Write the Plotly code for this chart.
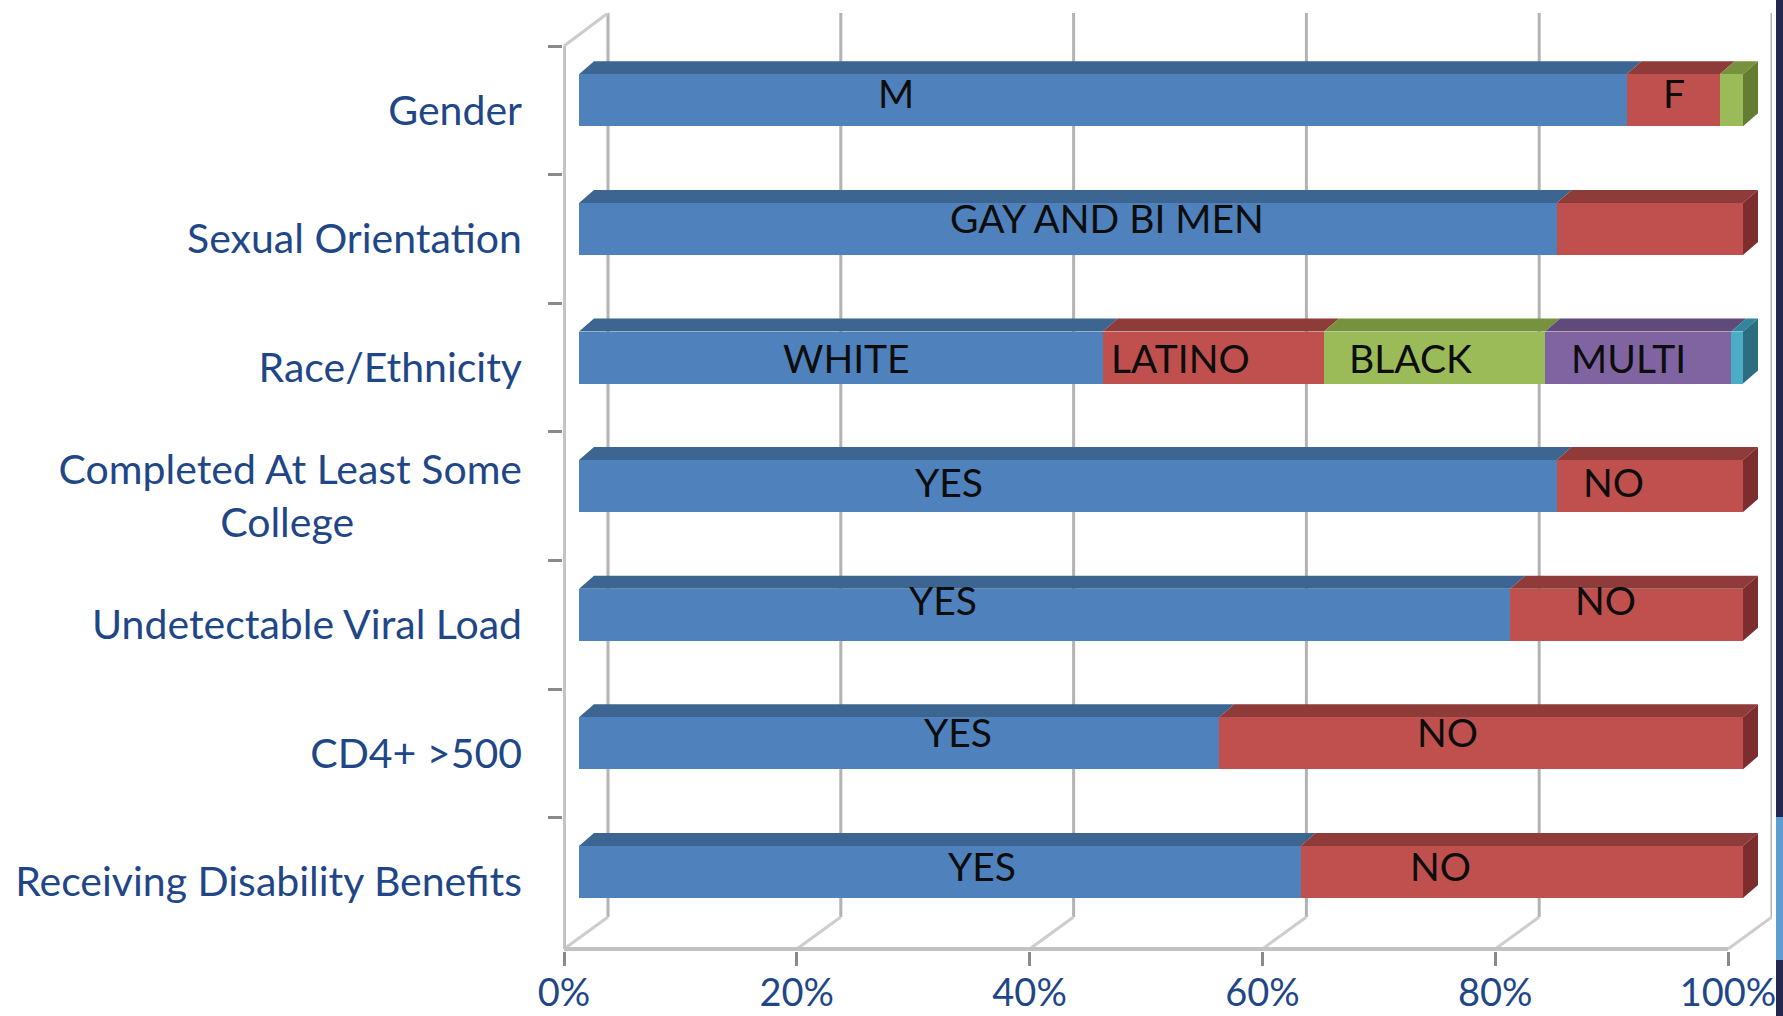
import plotly.graph_objects as go

# ---- data ---------------------------------------------------------------
NB = "\u00a0"
categories = [
    "Gender",
    "Sexual Orientation",
    "Race/Ethnicity",
    "Completed At Least Some<br>College" + NB * 16,
    "Undetectable Viral Load",
    "CD4+ >500",
    "Receiving Disability Benefits",
]

# stacked shares (percent) per colour position, one entry per category
blue_vals = [90, 84, 45, 84, 80, 55, 62]
red_vals = [8, 16, 19, 16, 20, 45, 38]
green_vals = [2, 0, 19, 0, 0, 0, 0]
purple_vals = [0, 0, 16, 0, 0, 0, 0]
cyan_vals = [0, 0, 1, 0, 0, 0, 0]

# in-bar text per category (segment order)
segment_text = [
    ["M", "F", ""],
    ["GAY AND BI MEN", ""],
    ["WHITE", "LATINO", "BLACK", "MULTI", ""],
    ["YES", "NO"],
    ["YES", "NO"],
    ["YES", "NO"],
    ["YES", "NO"],
]

x_ticks = [0, 20, 40, 60, 80, 100]
x_tick_text = ["0%", "20%", "40%", "60%", "80%", "100%"]

# ---- layout / style ------------------------------------------------------
# horizontal placement of each in-bar text (percent) and its lift in px
text_pos = [
    [27.2, 94.1],
    [45.4],
    [23.0, 51.7, 71.4, 90.2],
    [31.8, 88.9],
    [31.3, 88.2],
    [32.6, 74.6],
    [34.6, 74.0],
]
text_lift = [17, 21, 10, 14, 25, 21, 16]

front_cols = ["#4F81BD", "#C0504D", "#9BBB59", "#8064A2", "#4BACC6"]
top_cols = ["#3D6591", "#8E3B3A", "#76923C", "#604A7B", "#31859C"]
side_cols = ["#34577F", "#7B2E2D", "#657D33", "#4F3D66", "#2C6E80"]
label_blue = "#1F4788"
FONT = "Lato"

W, H = 1783, 1016
PX_L, PX_R, PX_T, PX_B = 563, 1772, 13, 951      # plot area (px)
BAR0_PX, PX_PER_PCT = 579, 11.64                 # 0 % on the bar face
BAND_TOP_PX, BAND_PX = 46, 128.6                 # category bands (front)
BAR_H_PX, BAR_LIFT_PX = 52, 10
DEPTH_DX_PX, DEPTH_DY_PX = 15, 13                # bar depth
FRONT_SHIFT_PX, BACK_SHIFT_PX = -15, 29          # wall planes vs bar face
FLOOR_FRONT_PX, FLOOR_BACK_PX, WALL_TOP_BACK_PX = 949, 917, 13

x_range = [(PX_L - BAR0_PX) / PX_PER_PCT, (PX_R - BAR0_PX) / PX_PER_PCT]


def ycat(px):
    return -0.5 + (px - BAND_TOP_PX) / BAND_PX


y_range = [ycat(PX_B), ycat(PX_T)]
bar_w = BAR_H_PX / BAND_PX
bar_off = -(BAR_LIFT_PX + BAR_H_PX / 2) / BAND_PX
ddx = DEPTH_DX_PX / PX_PER_PCT
ddy = DEPTH_DY_PX / BAND_PX
front_dx = FRONT_SHIFT_PX / PX_PER_PCT
back_dx = BACK_SHIFT_PX / PX_PER_PCT
floor_front = ycat(FLOOR_FRONT_PX)
floor_back = ycat(FLOOR_BACK_PX)
wall_top_back = ycat(WALL_TOP_BACK_PX)

series = [blue_vals, red_vals, green_vals, purple_vals, cyan_vals]

fig = go.Figure()
for vals, col in zip(series, front_cols):
    fig.add_trace(go.Bar(
        y=categories, x=vals, orientation="h",
        width=bar_w, offset=bar_off,
        marker=dict(color=col, line=dict(width=0)),
        showlegend=False, hoverinfo="skip",
    ))

shapes = []
# back wall gridlines
for v in x_ticks:
    shapes.append(dict(type="line", xref="x", yref="y", layer="below",
                       x0=v + back_dx, x1=v + back_dx,
                       y0=wall_top_back, y1=floor_back,
                       line=dict(color="#b3b3b3", width=3)))
# floor edges
for v in x_ticks:
    shapes.append(dict(type="line", xref="x", yref="y", layer="below",
                       x0=v + front_dx, y0=floor_front,
                       x1=v + back_dx, y1=floor_back,
                       line=dict(color="#cdcdcd", width=3)))
shapes.append(dict(type="line", xref="x", yref="y", layer="below",
                   x0=front_dx, x1=100 + front_dx,
                   y0=floor_front, y1=floor_front,
                   line=dict(color="#c2c2c2", width=4)))
# side wall edges
shapes.append(dict(type="line", xref="x", yref="y", layer="below",
                   x0=front_dx, x1=front_dx, y0=-0.5, y1=floor_front,
                   line=dict(color="#c4c4c4", width=4)))
shapes.append(dict(type="line", xref="x", yref="y", layer="below",
                   x0=front_dx, y0=-0.5, x1=back_dx, y1=wall_top_back,
                   line=dict(color="#cccccc", width=3)))

# top and end faces of each stacked bar
for i in range(len(categories)):
    yt = i + bar_off
    yb = yt + bar_w
    start = 0.0
    last = None
    for k, vals in enumerate(series):
        v = vals[i]
        if v <= 0:
            continue
        x0, x1 = start, start + v
        shapes.append(dict(
            type="path", xref="x", yref="y", layer="below",
            path=(f"M{x0},{yt} L{x1},{yt} L{x1 + ddx},{yt - ddy} "
                  f"L{x0 + ddx},{yt - ddy} Z"),
            fillcolor=top_cols[k], line=dict(width=0)))
        start = x1
        last = k
    shapes.append(dict(
        type="path", xref="x", yref="y", layer="above",
        path=(f"M{start},{yt} L{start + ddx},{yt - ddy} "
              f"L{start + ddx},{yb - ddy} L{start},{yb} Z"),
        fillcolor=side_cols[last], line=dict(width=0)))


# slide edge strip on the right
def px_x(px):
    return (px - PX_L) / (PX_R - PX_L)


def px_y(py):
    return (PX_B - py) / (PX_B - PX_T)


shapes.append(dict(type="rect", xref="paper", yref="paper", layer="above",
                   x0=px_x(1776), x1=px_x(1784), y0=px_y(1017), y1=px_y(-1),
                   fillcolor="#25274F", line=dict(width=0)))
shapes.append(dict(type="rect", xref="paper", yref="paper", layer="above",
                   x0=px_x(1776), x1=px_x(1784), y0=px_y(960), y1=px_y(817),
                   fillcolor="#5E9DD4", line=dict(width=0)))

annotations = []
for i, (texts, poss) in enumerate(zip(segment_text, text_pos)):
    for t, p in zip([t for t in texts if t], poss):
        annotations.append(dict(
            x=p, y=i, xref="x", yref="y", text=t, showarrow=False,
            yshift=text_lift[i], xanchor="center", yanchor="middle",
            font=dict(family=FONT, size=39, color="#0d0d0d")))

fig.update_layout(
    width=W, height=H,
    margin=dict(l=PX_L, r=W - PX_R, t=PX_T, b=H - PX_B, pad=0),
    paper_bgcolor="white", plot_bgcolor="rgba(0,0,0,0)",
    barmode="stack", bargap=0,
    shapes=shapes, annotations=annotations,
    xaxis=dict(range=x_range, showgrid=False, zeroline=False, showline=False,
               automargin=False,
               tickmode="array",
               tickvals=[v + front_dx for v in x_ticks], ticktext=x_tick_text,
               ticks="outside", ticklen=14, tickwidth=3, tickcolor="#8a8a8a",
               ticklabelstandoff=-6,
               tickfont=dict(family=FONT, size=38, color=label_blue),
               fixedrange=True),
    yaxis=dict(type="category", categoryorder="array",
               categoryarray=categories, range=y_range,
               automargin=False,
               showgrid=False, zeroline=False, showline=False,
               ticks="outside", tickson="boundaries", ticklen=14,
               tickwidth=3, tickcolor="#8a8a8a",
               ticklabelstandoff=40,
               tickfont=dict(family=FONT, size=41, color=label_blue),
               fixedrange=True),
    showlegend=False,
)

fig.write_html("out.html")
